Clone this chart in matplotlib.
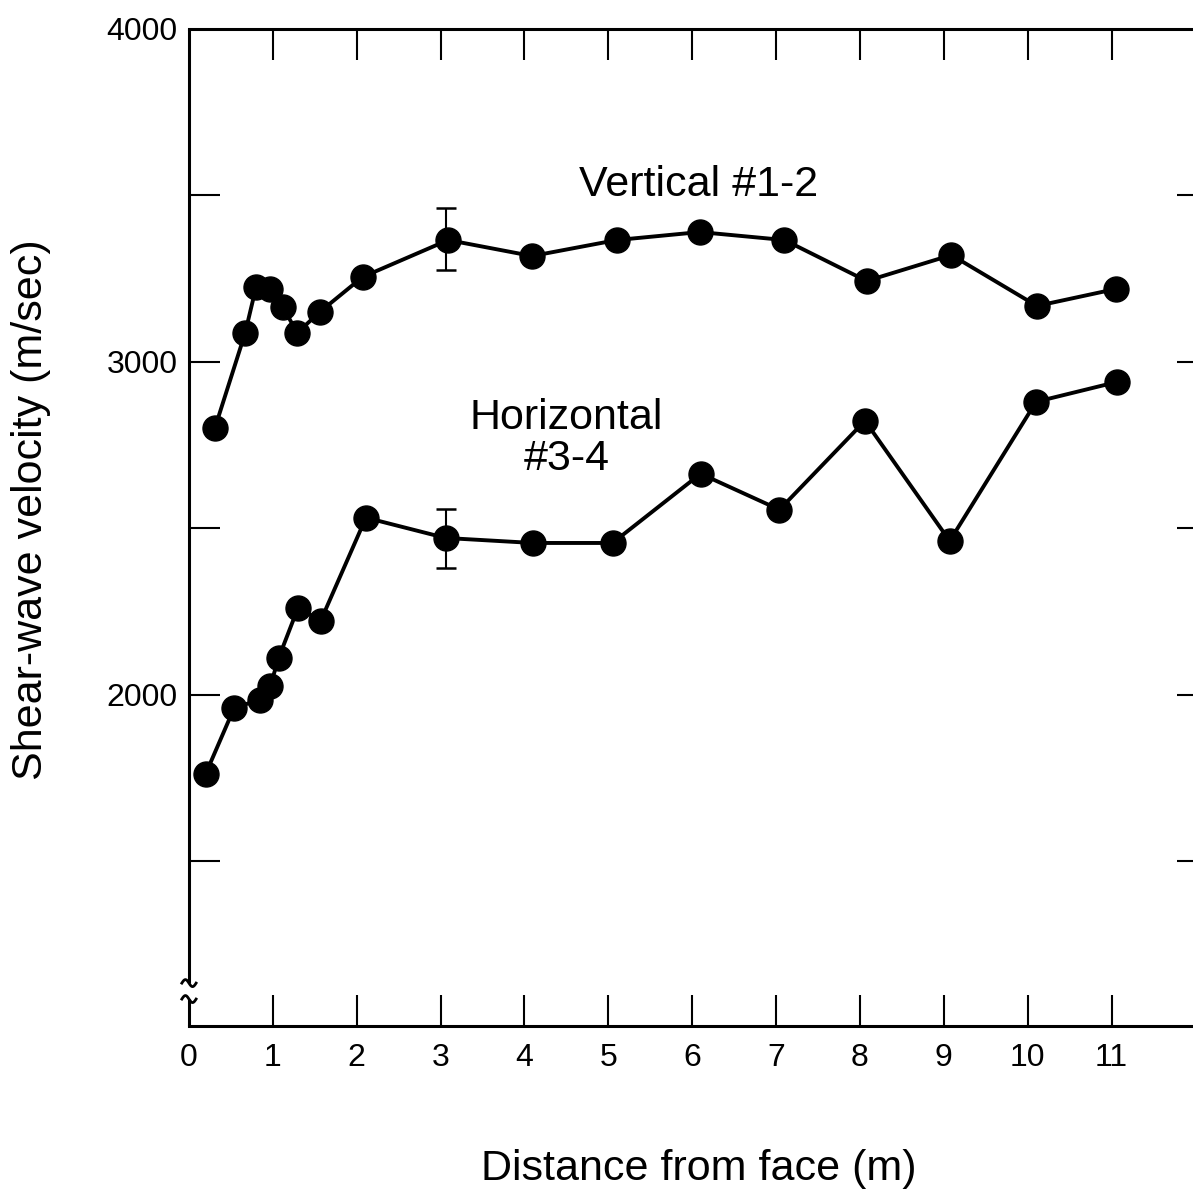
import matplotlib
matplotlib.use("Agg")
import matplotlib.pyplot as plt
import numpy as np

# ---------------- DATA ---------------- #

vert_x = [0.31, 0.67, 0.80, 0.97, 1.12, 1.29, 1.56, 2.07, 3.09, 4.09, 5.10,
          6.09, 7.10, 8.08, 9.09, 10.11, 11.05]
vert_v = [2802, 3087, 3225, 3219, 3165, 3087, 3150, 3255, 3366, 3318, 3366,
          3390, 3366, 3243, 3321, 3168, 3219]

horiz_x = [0.20, 0.54, 0.85, 0.97, 1.07, 1.30, 1.57, 2.11, 3.06, 4.10, 5.05,
           6.10, 7.04, 8.06, 9.07, 10.10, 11.07]
horiz_v = [1763, 1961, 1985, 2027, 2111, 2261, 2222, 2532, 2471, 2456, 2456,
           2664, 2556, 2823, 2462, 2880, 2940]

# error bars at x = 3 m
err_x = [3.07, 3.06]
err_v = [3370, 2470]
err_size = [93, 89]

x_ticks = list(range(0, 12))
y_major = [2000, 3000, 4000]
y_minor = [1500, 2500, 3500]

# ---------------- PLOT ---------------- #

plt.rcParams['font.family'] = ['Liberation Sans', 'DejaVu Sans']

fig = plt.figure(figsize=(11.93, 11.93), dpi=100)
ax = fig.add_axes([0.1584, 0.140, 0.8542, 0.8357])

for xs, vs in [(vert_x, vert_v), (horiz_x, horiz_v)]:
    ax.plot(xs, vs, color="black", lw=2.8, marker="o", markersize=18,
            markerfacecolor="black", markeredgecolor="black", zorder=3)

ax.errorbar(err_x, err_v, yerr=err_size, fmt="none", ecolor="black",
            elinewidth=1.5, capsize=7, capthick=1.8, zorder=2)

ax.set_xlim(0, 12.15)
ax.set_ylim(1005, 4000)

ax.set_xticks(x_ticks)
ax.set_xticklabels([str(t) for t in x_ticks])
ax.set_yticks(y_major)
ax.set_yticks(y_minor, minor=True)
ax.set_yticklabels([str(t) for t in y_major])

ax.tick_params(axis="both", which="both", direction="in", length=22,
               width=1.5, top=True, right=True, labelsize=23)
ax.tick_params(axis="x", pad=12)
ax.tick_params(axis="y", pad=8)
# no tick drawn on the spine itself at x=0 and y=4000
ax.xaxis.get_major_ticks()[0].tick1line.set_visible(False)
ax.xaxis.get_major_ticks()[0].tick2line.set_visible(False)
ax.yaxis.get_major_ticks()[2].tick1line.set_visible(False)
ax.yaxis.get_major_ticks()[2].tick2line.set_visible(False)

for s in ["top", "bottom"]:
    ax.spines[s].set_linewidth(2.2)
ax.spines["left"].set_visible(False)
ax.spines["right"].set_visible(False)

# left spine with a break near the bottom
brk_lo, brk_hi = 0.027, 0.043
ax.plot([0, 0], [brk_hi, 1], transform=ax.transAxes, color="black",
        lw=2.2, clip_on=False, solid_capstyle="butt")
ax.plot([0, 0], [0, brk_lo], transform=ax.transAxes, color="black",
        lw=2.2, clip_on=False, solid_capstyle="butt")
t = np.linspace(0, 1, 40)
for yb in (brk_lo, brk_hi):
    ax.plot(-0.007 + 0.014 * t, yb + 0.0035 * np.sin(2 * np.pi * t),
            transform=ax.transAxes, color="black", lw=2.0, clip_on=False)

ax.set_xlabel("Distance from face (m)", fontsize=31, labelpad=55)
ax.set_ylabel("Shear-wave velocity (m/sec)", fontsize=31)
ax.yaxis.set_label_coords(-0.135, 0.518)

ax.text(6.08, 3530, "Vertical #1-2", fontsize=31, ha="center", va="center")
ax.text(4.5, 2770, "Horizontal\n#3-4", fontsize=31, ha="center",
        va="center", linespacing=1.05)

fig.savefig("out.png", dpi=100)
